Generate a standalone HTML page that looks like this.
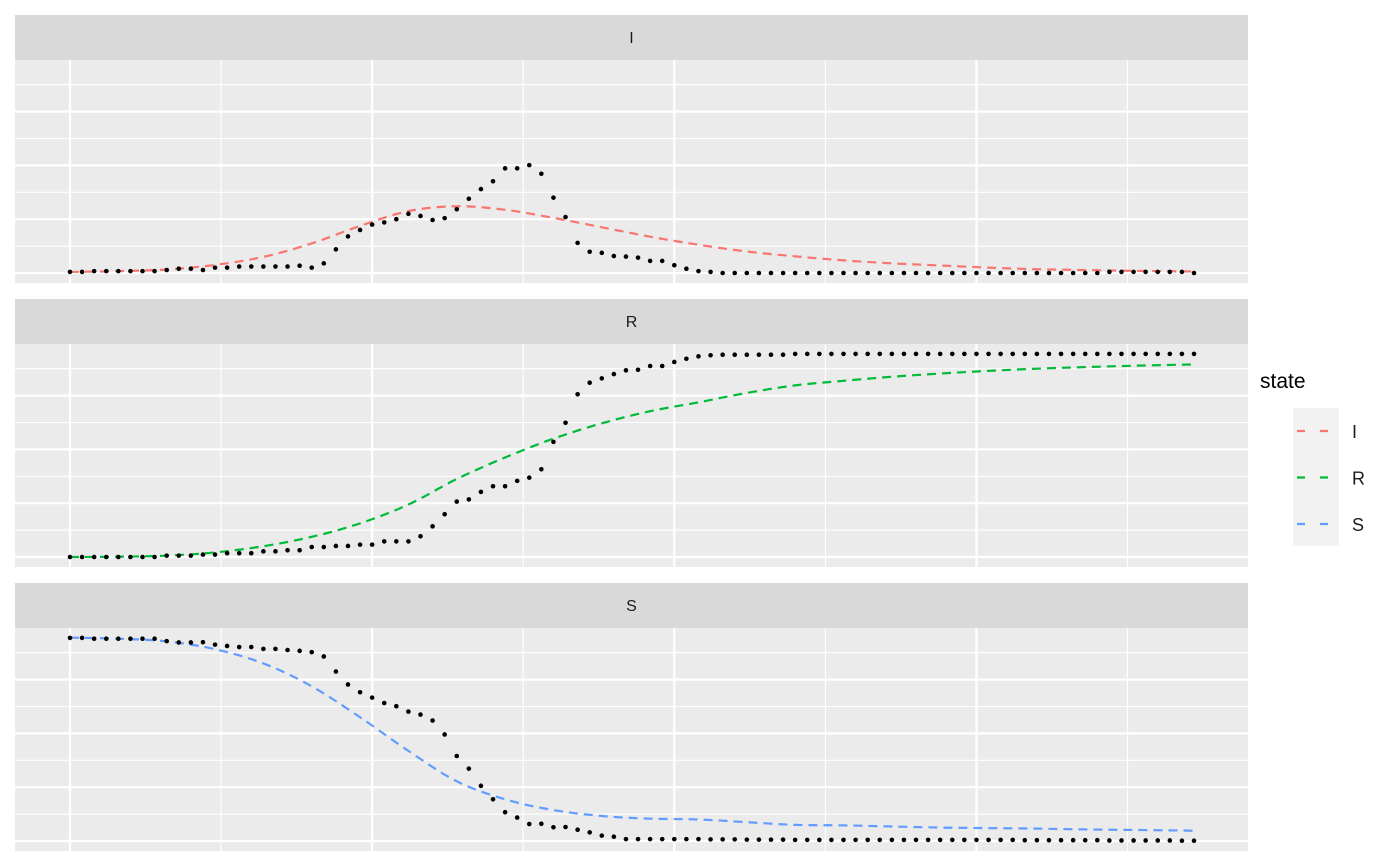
<!DOCTYPE html>
<html><head><meta charset="utf-8"><style>
body{margin:0;background:#fff;}
svg{display:block;font-family:"Liberation Sans",Arial,sans-serif;}
</style></head><body>
<svg id="chart" width="1400" height="865" viewBox="0 0 1400 865"></svg>
<script>
const panels = ['I','R','S'];
const obsI = [0.04,0.04,0.07,0.07,0.07,0.07,0.07,0.07,0.11,0.16,
0.16,0.11,0.2,0.2,0.24,0.24,0.24,0.24,0.24,0.27,
0.2,0.36,0.88,1.36,1.6,1.8,1.88,2.0,2.2,2.12,
1.97,2.04,2.37,2.76,3.12,3.41,3.89,3.89,4.01,3.69,
2.8,2.08,1.12,0.79,0.75,0.63,0.61,0.57,0.45,0.45,
0.29,0.16,0.07,0.04,0,0,0,0,0,0,
0,0,0,0,0,0,0,0,0,0,
0,0,0,0,0,0,0,0,0,0,
0,0,0,0,0,0,0.04,0.04,0.04,0.04,
0.04,0.04,0.04,0];
const obsR = [0,0,0,0,0,0,0,0,0.05,0.05,
0.05,0.09,0.09,0.14,0.14,0.14,0.21,0.21,0.25,0.25,
0.37,0.37,0.41,0.41,0.46,0.46,0.58,0.58,0.58,0.77,
1.14,1.59,2.06,2.14,2.42,2.63,2.63,2.83,2.95,3.26,
4.28,4.99,6.05,6.48,6.64,6.8,6.94,6.96,7.1,7.1,
7.25,7.37,7.46,7.5,7.52,7.52,7.52,7.52,7.52,7.52,
7.55,7.55,7.55,7.55,7.55,7.55,7.55,7.55,7.55,7.55,
7.55,7.55,7.55,7.55,7.55,7.55,7.55,7.55,7.55,7.55,
7.55,7.55,7.55,7.55,7.55,7.55,7.55,7.55,7.55,7.55,
7.55,7.55,7.55,7.55];
const obsS = [7.55,7.55,7.52,7.52,7.52,7.52,7.52,7.52,7.43,7.38,
7.38,7.39,7.3,7.25,7.21,7.21,7.14,7.14,7.1,7.07,
7.02,6.86,6.3,5.82,5.53,5.33,5.13,5.01,4.81,4.7,
4.48,3.96,3.16,2.69,2.05,1.55,1.07,0.87,0.63,0.64,
0.51,0.52,0.42,0.32,0.2,0.16,0.07,0.07,0.07,0.07,
0.07,0.07,0.07,0.06,0.06,0.06,0.05,0.05,0.05,0.05,
0.04,0.04,0.04,0.04,0.04,0.04,0.04,0.04,0.04,0.04,
0.04,0.04,0.04,0.04,0.04,0.04,0.04,0.04,0.04,0.03,
0.03,0.03,0.03,0.03,0.03,0.03,0.02,0.02,0.02,0.02,
0.02,0.02,0.01,0.01];
const curveT = [0,4,8,12,16,20,24,28,32,36,40,44,48,52,56,60,64,68,72,76,80,84,88,92,93];
const fitI = [0.04,0.07,0.13,0.3,0.6,1.1,1.75,2.3,2.48,2.35,2.05,1.7,1.35,1.05,0.8,0.62,0.47,0.36,0.28,0.2,0.14,0.11,0.08,0.06,0.06];
const fitR = [0,0.01,0.05,0.17,0.4,0.75,1.25,1.95,2.9,3.7,4.4,4.97,5.42,5.75,6.1,6.38,6.55,6.7,6.82,6.92,7.0,7.06,7.11,7.15,7.16];
const fitS = [7.56,7.52,7.42,7.13,6.6,5.75,4.6,3.35,2.22,1.55,1.15,0.93,0.83,0.8,0.7,0.6,0.58,0.54,0.5,0.48,0.46,0.43,0.41,0.39,0.38];
const colors = {I:'#F8766D', R:'#00BA38', S:'#619CFF'};
const obs = {I:obsI, R:obsR, S:obsS};
const fit = {I:fitI, R:fitR, S:fitS};

const NS='http://www.w3.org/2000/svg';
const svg=document.getElementById('chart');
function mk(tag, attrs, parent){const e=document.createElementNS(NS,tag);for(const k in attrs)e.setAttribute(k,attrs[k]);(parent||svg).appendChild(e);return e;}
const PX0=15, PX1=1248;
function xs(t){return 70 + t*(1194-70)/93;}
function ys(v,k){return 273 + 284*k - v*26.9;}

panels.forEach((p,k)=>{
  const top=15+284*k;
  const g=mk('g',{});
  
  
  const strip=mk('rect',{x:PX0,y:top,width:PX1-PX0,height:45,fill:'#d9d9d9'},g);
  
  
  const st=mk('text',{x:(PX0+PX1)/2,y:top+28,'text-anchor':'middle','font-size':'16',fill:'#1a1a1a'},g);
  st.textContent=p;
  
  
  const bg=mk('rect',{x:PX0,y:top+45,width:PX1-PX0,height:223,fill:'#ebebeb'},g);
  
  
  for(let v=1;v<=7;v+=2){const l=mk('line',{x1:PX0,x2:PX1,y1:ys(v,k),y2:ys(v,k),stroke:'#fff','stroke-width':1.1},g);}
  for(let t=12.5;t<94;t+=25){const l=mk('line',{x1:xs(t),x2:xs(t),y1:top+45,y2:top+268,stroke:'#fff','stroke-width':1.1},g);}
  for(let v=0;v<=6;v+=2){const l=mk('line',{x1:PX0,x2:PX1,y1:ys(v,k),y2:ys(v,k),stroke:'#fff','stroke-width':2.2},g);}
  for(let t=0;t<94;t+=25){const l=mk('line',{x1:xs(t),x2:xs(t),y1:top+45,y2:top+268,stroke:'#fff','stroke-width':2.2},g);}
  const f=fit[p];
  let d='';
  curveT.forEach((t,i)=>{
    const x=xs(t), y=ys(f[i],k);
    if(i===0){d+='M'+x+','+y;}
    else{
      const i0=Math.max(i-2,0), i3=Math.min(i+1,curveT.length-1);
      const x0=xs(curveT[i0]),y0=ys(f[i0],k),x1=xs(curveT[i-1]),y1=ys(f[i-1],k),x3=xs(curveT[i3]),y3=ys(f[i3],k);
      const c1x=x1+(x-x0)/6,c1y=y1+(y-y0)/6,c2x=x-(x3-x1)/6,c2y=y-(y3-y1)/6;
      d+=' C'+c1x+','+c1y+' '+c2x+','+c2y+' '+x+','+y;
    }
  });
  const path=mk('path',{d:d,fill:'none',stroke:colors[p],'stroke-width':2.2,'stroke-dasharray':'9,6'},g);
  
  
  obs[p].forEach((v,i)=>{
    const c=mk('circle',{cx:xs(i),cy:ys(v,k),r:2.3,fill:'#000'},g);
    
    
  });
});

const lg=mk('g',{});


const lt=mk('text',{x:1260,y:388,'font-size':'21',fill:'#000'},lg);
lt.textContent='state';


const lb=mk('rect',{x:1293,y:408,width:46,height:138,fill:'#f2f2f2'},lg);


panels.forEach((p,i)=>{
  const y=431+46.5*i;
  const ln=mk('line',{x1:1297,x2:1334,y1:y,y2:y,stroke:colors[p],'stroke-width':2.2,'stroke-dasharray':'8,15'},lg);
  
  
  const tx=mk('text',{x:1352,y:y+7,'font-size':'18',fill:'#1a1a1a'},lg);
  tx.textContent=p;
  
  
});
</script>
</body></html>
